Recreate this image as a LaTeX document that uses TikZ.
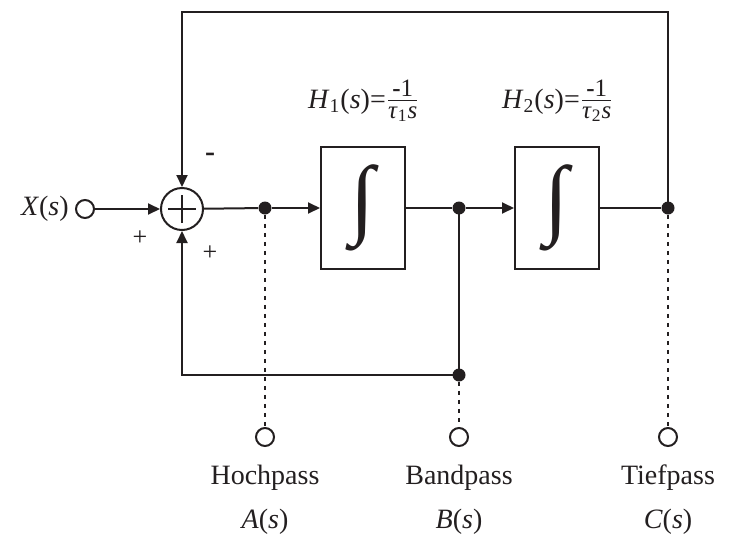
\documentclass[tikz,border=0pt]{standalone}
\usepackage{amsmath,graphicx}
\usepackage{fontspec}
\setmainfont{Liberation Serif}
\usetikzlibrary{arrows.meta,calc,positioning}
\definecolor{svInk}{HTML}{231F20}
\tikzset{
 svf/.style={line join=miter,text=svInk,font=\fontsize{14}{16}\selectfont},
 block/.style={rectangle,draw=svInk,line width=1pt,inner sep=0pt,minimum width=42pt,minimum height=61pt},
 summer/.style={circle,draw=svInk,line width=1pt,inner sep=0pt,minimum size=21pt},
 port/.style={circle,draw=svInk,fill=white,line width=1pt,inner sep=0pt,minimum size=9pt},
 junction/.style={circle,fill=svInk,inner sep=0pt,minimum size=6.5pt},
 wire/.style={draw=svInk,line width=1pt},
 sig/.style={wire,-{Triangle[length=6pt,width=5.5pt]}},
 tap/.style={draw=svInk,line width=1pt,dash pattern=on 2pt off 2.5pt},
 sign/.style={font=\fontsize{13}{15}\selectfont,inner sep=0pt},
 gain/.style={inner sep=0pt}
}
\newcommand{\integ}{{\fontsize{44}{44}\selectfont\itshape ∫}}
\newcommand{\tfr}[1]{$\genfrac{}{}{0.5pt}{}{\text{\fontsize{12.5}{13}\selectfont\textbf{-}1}}{\text{\fontsize{12.5}{13}\selectfont\textit{τ}\textsubscript{#1}\textit{s}}}$}
\begin{document}
\begin{tikzpicture}[svf,x=.5pt,y=-.5pt]
 \useasboundingbox (0,0) rectangle (729,541);
 % forward path
 \node[anchor=east,inner sep=0pt] (xlab) at (69,209) {\textit{X}(\textit{s})};
 \node[port] (xin) at (85,209) {};
 \node[summer] (sum) at (182,209) {};
 \draw[wire] ($(sum)+(-7pt,0)$) -- ($(sum)+(7pt,0)$) ($(sum)+(0,-7pt)$) -- ($(sum)+(0,7pt)$);
 \node[junction] (jA) at (265,208) {};
 \node[block] (int1) at (363,208) {};
 \node[junction] (jB) at (459,208) {};
 \node[block] (int2) at (557,208) {};
 \node[junction] (jC) at (668,208) {};
 \node[junction] (jD) at (459,375) {};
 \node[inner sep=0pt] (g1) at (int1) {\integ};
 \node[inner sep=0pt] (g2) at (int2) {\integ};
 \node[gain] (h1) at (364,101) {\textit{H}\textsubscript{1}(\textit{s})=\tfr{1}};
 \node[gain] (h2) at (558,101) {\textit{H}\textsubscript{2}(\textit{s})=\tfr{2}};
 \draw[sig] (xin) -- (sum);
 \draw[wire] (sum) -- (jA);
 \draw[sig] (jA) -- (int1);
 \draw[wire] (int1) -- (jB);
 \draw[sig] (jB) -- (int2);
 \draw[wire] (int2) -- (jC);
 % feedback
 \coordinate (top) at (0,12);
 \draw[sig] (jC.center) -- (jC |- top) -| (sum);
 \draw[wire] (jB.center) -- (jD.center);
 \draw[sig] (jD.center) -| (sum);
 \node[sign] (sp1) at (140,238) {+};
 \node[sign] (sp2) at (210,253) {+};
 \node[inner sep=0pt,font=\fontsize{15}{16}\selectfont] (sm) at (210,157) {\textbf{-}};
 % outputs
 \node[port] (oA) at (265,437) {};
 \node[port] (oB) at (459,437) {};
 \node[port] (oC) at (668,437) {};
 \draw[tap] (jA) -- (oA);
 \draw[tap] (jD) -- (oB);
 \draw[tap] (jC) -- (oC);
 \node (nA) at (265,478) {Hochpass};
 \node (nB) at (459,478) {Bandpass};
 \node (nC) at (668,478) {Tiefpass};
 \node (fA) at (265,522) {\textit{A}(\textit{s})};
 \node (fB) at (459,522) {\textit{B}(\textit{s})};
 \node (fC) at (668,522) {\textit{C}(\textit{s})};
\end{tikzpicture}
\end{document}
